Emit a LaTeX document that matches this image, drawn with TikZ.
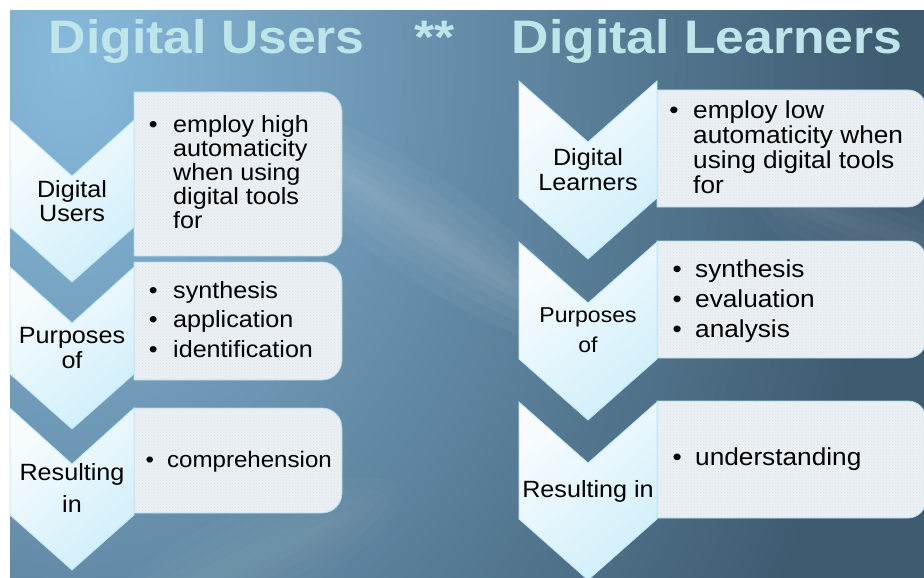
\documentclass[tikz,border=0pt]{standalone}
\usepackage{fontspec}
\setmainfont{Liberation Sans}
\usetikzlibrary{patterns}

\definecolor{bglight}{HTML}{88BADC}
\definecolor{bgdark}{HTML}{3E5B70}
\definecolor{chevA}{HTML}{F8FCFE}
\definecolor{chevB}{HTML}{D0EFFA}
\definecolor{chevLine}{HTML}{BCE6F4}
\definecolor{boxFill}{HTML}{EBF0F4}
\definecolor{boxDot}{HTML}{DCE4EA}
\definecolor{boxLine}{HTML}{A9DBEE}
\definecolor{titleFace}{HTML}{BEE6EA}

% glow of the backdrop: light centre fading to the dark tone early
\pgfdeclareradialshading{bgglow}{\pgfpoint{0bp}{0bp}}{%
  color(0bp)=(bglight); color(12.5bp)=(bgdark); color(50bp)=(bgdark)}

% chevron: centre x, top y, half width, notch depth, side length, tip depth
\newcommand\chevshape[6]{%
  \path[chevron] ({#1-#3},{#2}) -- ({#1},{#2+#4}) -- ({#1+#3},{#2})
    -- ({#1+#3},{#2+#5}) -- ({#1},{#2+#6}) -- ({#1-#3},{#2+#5}) -- cycle;}

% text panel, square on the left and rounded on the right
\newcommand\panelshape[5]{%
  \path[panel] (#1,#2) -- ({#3-#5},#2) arc[start angle=-90,end angle=0,radius=#5]
    -- (#3,{#4-#5}) arc[start angle=0,end angle=90,radius=#5] -- (#1,#4) -- cycle;}

% soft light streak across the backdrop, tapering at both ends
\newcommand\streak[5]{% centre x, centre y, angle, half length, opacity
  \begin{scope}[shift={(#1,#2)}, rotate=#3]
    \foreach \w/\k in {6/0.6,14/0.75,24/0.9,36/1.0,50/1.1}
      \fill[white, fill opacity=#5] (0,0) ellipse ({#4*\k} and \w);
  \end{scope}}

\tikzset{
  chevron/.style={draw=chevLine, line width=0.8pt, shading=axis,
    top color=chevA, bottom color=chevB, shading angle=40},
  panel/.style={fill=boxFill, draw=boxLine, line width=0.8pt,
    postaction={pattern=crosshatch dots, pattern color=boxDot}},
  lbl/.style={inner sep=0pt, anchor=base, text=black, xscale=1.07,
    font=\fontsize{23.5pt}{24pt}\selectfont},
  lst/.style={lbl, anchor=base west},
  ttl/.style={inner sep=0pt, anchor=base west, text=titleFace, xscale=1.1,
    font=\fontsize{47pt}{47pt}\selectfont\bfseries},
}

\newcommand\bul[1]{\llap{\textbullet\hspace{#1pt}}}

\begin{document}
\begin{tikzpicture}[x=1pt, y=-1pt]
\useasboundingbox (0,0) rectangle (924,578);

% backdrop
\begin{scope}
  \clip (10,11) rectangle (924,578);
  \shade[shading=bgglow] (70,60) ellipse (1640 and 2100);
  \streak{420}{225}{-34}{190}{0.035}
  \streak{870}{228}{-18}{110}{0.025}
  \streak{250}{560}{25}{150}{0.02}
\end{scope}

% titles
\node[ttl] (tu) at (48.5,54) {Digital Users};
\node[ttl] (ts) at (414,54) {**};
\node[ttl] (tl) at (511.5,54) {Digital Learners};

% left column: panels, then chevrons on top
\panelshape{134}{92}{342}{256}{20}
\panelshape{134}{262}{342}{380}{20}
\panelshape{134}{408}{342}{513}{20}
\chevshape{72}{120}{62}{56}{107}{162}
\chevshape{72}{267}{62}{56}{107}{162}
\chevshape{72}{408}{62}{56}{107}{162}

% right column
\panelshape{657}{90}{926}{207}{18}
\panelshape{657}{241}{926}{358}{18}
\panelshape{657}{401}{926}{518}{18}
\chevshape{588}{81}{69}{61}{117}{178}
\chevshape{588}{242}{69}{61}{117}{178}
\chevshape{588}{402}{69}{61}{117}{178}

% left column texts
\node[lbl] (lc1) at (72,197) {\begin{tabular}[t]{@{}c@{}}Digital\\Users\end{tabular}};
\node[lbl] (lc2) at (72,343) {\begin{tabular}[t]{@{}c@{}}Purposes\\[1pt]of\end{tabular}};
\node[lbl] (lc3) at (72,480) {\begin{tabular}[t]{@{}c@{}}Resulting\\[8pt]in\end{tabular}};

\node[lst] (lb1) at (173,132) {\begin{tabular}[t]{@{}l@{}}\bul{14.6}employ high\\automaticity\\when using\\digital tools\\for\end{tabular}};
\node[lst] (lb2) at (173,298) {\begin{tabular}[t]{@{}l@{}}\bul{14.6}synthesis\\[5.5pt]\bul{14.6}application\\[5.5pt]\bul{14.6}identification\end{tabular}};
\node[lst, font=\fontsize{22.5pt}{24pt}\selectfont] (lb3) at (167,467) {\bul{12.2}comprehension};

% right column texts
\node[lbl] (rc1) at (588,165) {\begin{tabular}[t]{@{}c@{}}Digital\\[1pt]Learners\end{tabular}};
\node[lbl, font=\fontsize{21.5pt}{24pt}\selectfont] (rc2) at (588,322) {\begin{tabular}[t]{@{}c@{}}Purposes\\[6pt]of\end{tabular}};
\node[lbl] (rc3) at (588,497) {Resulting in};

\node[lst, font=\fontsize{24.5pt}{25pt}\selectfont] (rb1) at (693,118) {\begin{tabular}[t]{@{}l@{}}\bul{13.6}employ low\\automaticity when\\using digital tools\\for\end{tabular}};
\node[lst, font=\fontsize{24.5pt}{25pt}\selectfont] (rb2) at (695,277) {\begin{tabular}[t]{@{}l@{}}\bul{12.6}synthesis\\[5pt]\bul{12.6}evaluation\\[5pt]\bul{12.6}analysis\end{tabular}};
\node[lst, font=\fontsize{24.5pt}{25pt}\selectfont] (rb3) at (695,465) {\bul{12.6}understanding};
\end{tikzpicture}
\end{document}
